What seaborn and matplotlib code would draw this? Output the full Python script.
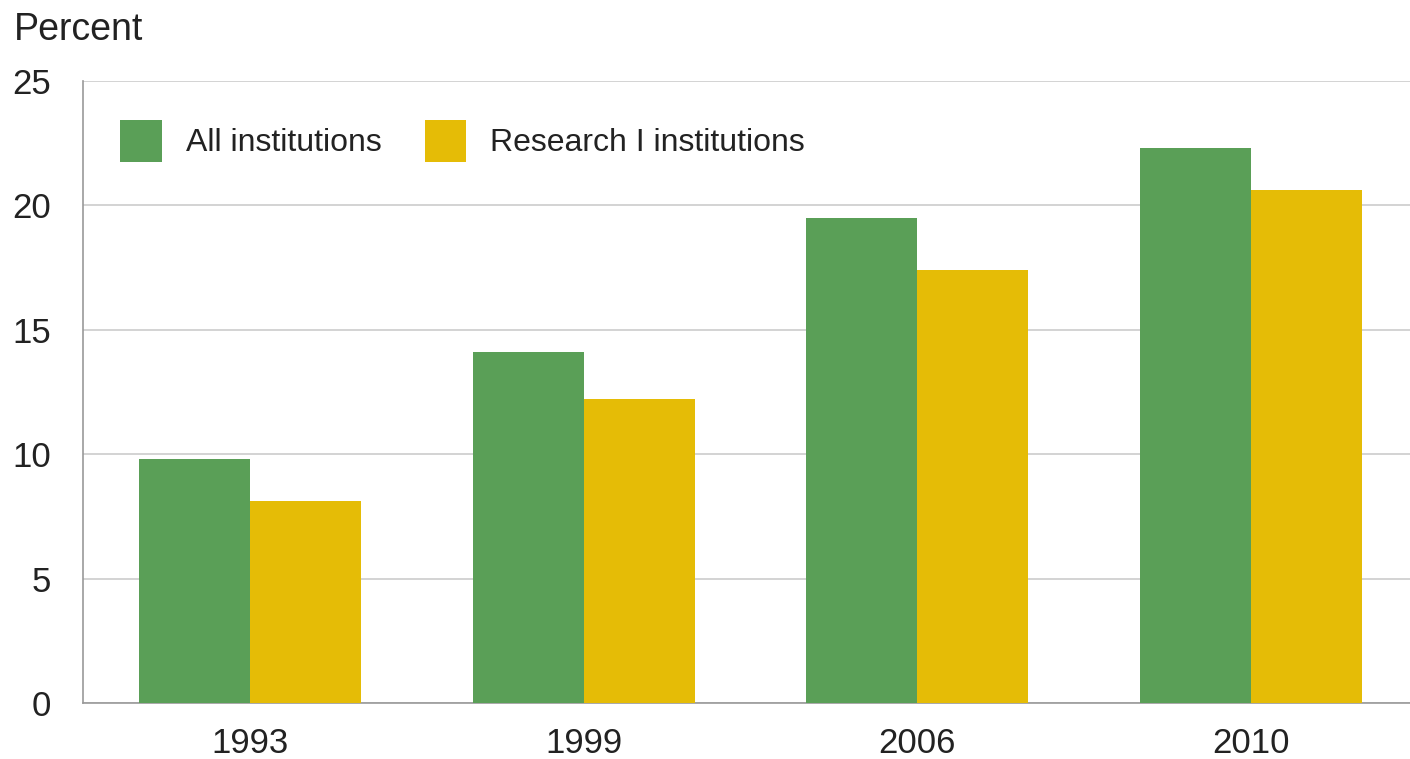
import matplotlib
matplotlib.use("Agg")
import matplotlib.pyplot as plt
import seaborn as sns
import pandas as pd

# data
years = ["1993", "1999", "2006", "2010"]
all_inst = [9.8, 14.1, 19.5, 22.3]
research_inst = [8.1, 12.2, 17.4, 20.6]
series_names = ["All institutions", "Research I institutions"]
colors = ["#5A9F57", "#E5BC06"]

df = pd.DataFrame({
    "year": years * 2,
    "value": all_inst + research_inst,
    "series": [series_names[0]] * 4 + [series_names[1]] * 4,
})

sns.set_style("white")
plt.rcParams["font.family"] = ["Liberation Sans", "DejaVu Sans"]

fig = plt.figure(figsize=(14.1, 7.59), dpi=100)
# axes runs a bit past the right edge of the figure, like the original
ax = fig.add_axes([0.0589, 0.0738, 0.9468, 0.8195])

sns.barplot(data=df, x="year", y="value", hue="series", palette=colors,
            width=0.665, saturation=1, linewidth=0, ax=ax, zorder=3)

ax.set_ylim(0, 25)
ax.set_yticks([0, 5, 10, 15, 20, 25])
ax.yaxis.grid(True, color="#cccccc", linewidth=1.2, zorder=0)
ax.set_axisbelow(True)
ax.set_xlabel("")
ax.set_ylabel("")
for s in ["top", "right"]:
    ax.spines[s].set_visible(False)
for s in ["left", "bottom"]:
    ax.spines[s].set_color("#999999")
    ax.spines[s].set_linewidth(1.2)
ax.tick_params(axis="both", length=0, labelsize=25, colors="#222222")
ax.tick_params(axis="x", pad=17)
ax.tick_params(axis="y", pad=23)

leg = ax.legend(loc="upper left", bbox_to_anchor=(0.0064, 0.984), ncol=2, frameon=False,
                fontsize=23, handlelength=1.3, handleheight=1.65, handletextpad=0.75,
                columnspacing=1.35)
for t in leg.get_texts():
    t.set_color("#222222")

fig.text(0.01, 0.96, "Percent", fontsize=27, color="#222222", ha="left", va="center")

plt.savefig("out.png", dpi=100)
